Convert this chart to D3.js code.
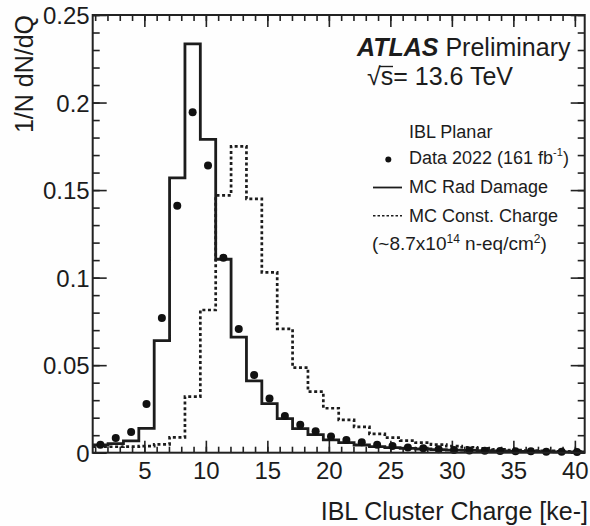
<!DOCTYPE HTML>
<html>
<head>
<meta charset="utf-8">
<title>IBL Cluster Charge</title>
<script src="https://d3js.org/d3.v7.min.js"></script>
<style>
  body { margin: 0; background: #ffffff; }
  svg text { font-family: "Liberation Sans", Arial, Helvetica, sans-serif; fill: #1c1c1c; }
</style>
</head>

<body>
<script>

"use strict";

// binning (ke-): 32 bins of 1.25 starting at 0.8
const binLow = 0.8;
const binWidth = 1.25;
const nBins = 32;

// Data 2022 (161 fb-1), per bin
const dataVals = [
  0.0046, 0.0084, 0.0118, 0.0278, 0.077, 0.141, 0.1945, 0.164,
  0.1114, 0.0707, 0.0444, 0.0309, 0.021, 0.016, 0.0122, 0.0093,
  0.0073, 0.0059, 0.0045, 0.0038, 0.003, 0.0025, 0.0019, 0.0015,
  0.0013, 0.0011, 0.0010, 0.0008, 0.0008, 0.0006, 0.0006, 0.0004
];

// MC Rad Damage (solid)
const mcRad = [
  0.0044, 0.0052, 0.0068, 0.0139, 0.064, 0.157, 0.2335, 0.179,
  0.1105, 0.066, 0.041, 0.028, 0.0195, 0.0137, 0.0103, 0.0073,
  0.0057, 0.0044, 0.0035, 0.0029, 0.0025, 0.0021, 0.0018, 0.0015,
  0.0013, 0.0011, 0.0010, 0.0008, 0.0007, 0.0006, 0.0005, 0.0004
];

// MC Const. Charge (dashed)
const mcConst = [
  0.0034, 0.0034, 0.0035, 0.0038, 0.0048, 0.0088, 0.032, 0.0815,
  0.147, 0.175, 0.145, 0.103, 0.0707, 0.0486, 0.0349, 0.0254,
  0.0187, 0.0148, 0.0107, 0.0086, 0.0069, 0.0057, 0.0046, 0.0038,
  0.0031, 0.0025, 0.0019, 0.0015, 0.0012, 0.0010, 0.0008, 0.0006
];

const xMajor = [5, 10, 15, 20, 25, 30, 35, 40];
const xMinor = d3.range(1, 41);
const yMajor = [0, 0.05, 0.1, 0.15, 0.2, 0.25];
const yTickLabels = ["0", "0.05", "0.1", "0.15", "0.2", "0.25"];
const yMinor = d3.range(0, 26).map((i) => i / 100);

const W = 590, H = 526;
const fLeft = 92.7, fRight = 584.7, fTop = 15, fBottom = 452.7;

const svg = d3.select("body").append("svg")
  .attr("width", W)
  .attr("height", H);

svg.append("rect").attr("width", W).attr("height", H).attr("fill", "#fefefe");

const x = d3.scaleLinear().domain([binLow, binLow + nBins * binWidth]).range([fLeft, fRight]);
const y = d3.scaleLinear().domain([0, 0.25]).range([fBottom, fTop]);

const edges = d3.range(nBins + 1).map((k) => binLow + k * binWidth);
const centers = d3.range(nBins).map((k) => binLow + (k + 0.5) * binWidth);

// axes: ticks point inwards, on all four sides
function axisGroup(axis, tx, ty) {
  const g = svg.append("g").attr("transform", "translate(" + tx + "," + ty + ")").call(axis);
  g.select(".domain").remove();
  g.selectAll("line").attr("stroke", "#222").attr("stroke-width", 1.6);
  g.selectAll("text").attr("font-size", 24).attr("fill", "#1c1c1c")
    .attr("font-family", "'Liberation Sans', Arial, sans-serif");
  return g;
}

// bottom
axisGroup(d3.axisBottom(x).tickValues(xMinor).tickSize(-6).tickFormat(""), 0, fBottom);
const xb = axisGroup(d3.axisBottom(x).tickValues(xMajor).tickSize(-12).tickPadding(0).tickFormat(d3.format("d")), 0, fBottom);
xb.selectAll("text").attr("dy", null).attr("y", 26.5);
// top
axisGroup(d3.axisTop(x).tickValues(xMinor).tickSize(-6).tickFormat(""), 0, fTop);
axisGroup(d3.axisTop(x).tickValues(xMajor).tickSize(-12).tickFormat(""), 0, fTop);
// left
axisGroup(d3.axisLeft(y).tickValues(yMinor).tickSize(-7).tickFormat(""), fLeft, 0);
const yl = axisGroup(d3.axisLeft(y).tickValues(yMajor).tickSize(-14).tickPadding(3)
  .tickFormat((d, i) => yTickLabels[i]), fLeft, 0);
yl.selectAll("text").attr("dy", "0.36em");
// right
axisGroup(d3.axisRight(y).tickValues(yMinor).tickSize(-7).tickFormat(""), fRight, 0);
axisGroup(d3.axisRight(y).tickValues(yMajor).tickSize(-14).tickFormat(""), fRight, 0);

// histograms
const step = d3.line().x((d) => x(d[0])).y((d) => y(d[1])).curve(d3.curveStepAfter);
const histPoints = (vals) => edges.map((e, k) => [e, vals[Math.min(k, vals.length - 1)]]);

svg.append("path")
  .attr("d", step(histPoints(mcConst)))
  .attr("fill", "none")
  .attr("stroke", "#1c1c1c")
  .attr("stroke-width", 2.7)
  .attr("stroke-dasharray", "3,2.6");

svg.append("path")
  .attr("d", step(histPoints(mcRad)))
  .attr("fill", "none")
  .attr("stroke", "#1c1c1c")
  .attr("stroke-width", 2.8);

svg.append("g").selectAll("circle")
  .data(dataVals)
  .enter()
  .append("circle")
  .attr("cx", (d, i) => x(centers[i]))
  .attr("cy", (d) => y(d))
  .attr("r", 4)
  .attr("fill", "#111");

// frame
svg.append("rect")
  .attr("x", fLeft).attr("y", fTop)
  .attr("width", fRight - fLeft).attr("height", fBottom - fTop)
  .attr("fill", "none").attr("stroke", "#222").attr("stroke-width", 2);

// axis titles
svg.append("text")
  .attr("x", 588).attr("y", 520)
  .attr("text-anchor", "end")
  .attr("font-size", 25)
  .text("IBL Cluster Charge [ke-]");

svg.append("text")
  .attr("transform", "translate(33,15) rotate(-90)")
  .attr("text-anchor", "end")
  .attr("font-size", 25)
  .text("1/N dN/dQ");

// ATLAS label
const atlas = svg.append("text").attr("x", 357).attr("y", 56).attr("font-size", 25);
atlas.append("tspan").attr("font-weight", "bold").attr("font-style", "italic").text("ATLAS");
atlas.append("tspan").text(" Preliminary");

const rs = svg.append("text").attr("x", 367).attr("y", 85).attr("font-size", 25);
rs.append("tspan").text("\u221As= 13.6 TeV");
svg.append("line")
  .attr("x1", 379).attr("x2", 393).attr("y1", 66.5).attr("y2", 66.5)
  .attr("stroke", "#1c1c1c").attr("stroke-width", 1.4);

// legend
const lg = svg.append("g").attr("font-size", 18);
lg.append("text").attr("x", 409).attr("y", 138).text("IBL Planar");

const t1 = lg.append("text").attr("x", 409).attr("y", 164);
t1.append("tspan").text("Data 2022 (161 fb");
t1.append("tspan").attr("font-size", 11).attr("dy", -8).text("-1");
t1.append("tspan").attr("dy", 8).text(")");
lg.append("circle").attr("cx", 388.3).attr("cy", 159.5).attr("r", 3).attr("fill", "#111");

lg.append("text").attr("x", 409).attr("y", 193).text("MC Rad Damage");
lg.append("line").attr("x1", 373).attr("x2", 402).attr("y1", 187.5).attr("y2", 187.5)
  .attr("stroke", "#1c1c1c").attr("stroke-width", 1.8);

lg.append("text").attr("x", 409).attr("y", 221.5).text("MC Const. Charge");
lg.append("line").attr("x1", 373).attr("x2", 402).attr("y1", 215.7).attr("y2", 215.7)
  .attr("stroke", "#1c1c1c").attr("stroke-width", 1.6).attr("stroke-dasharray", "2.5,2");

const t2 = lg.append("text").attr("x", 372).attr("y", 250).attr("font-size", 19);
t2.append("tspan").text("(~8.7x10");
t2.append("tspan").attr("font-size", 12).attr("dy", -7).text("14");
t2.append("tspan").attr("dy", 7).text(" n-eq/cm");
t2.append("tspan").attr("font-size", 12).attr("dy", -7).text("2");
t2.append("tspan").attr("dy", 7).text(")");

</script>
</body>
</html>
